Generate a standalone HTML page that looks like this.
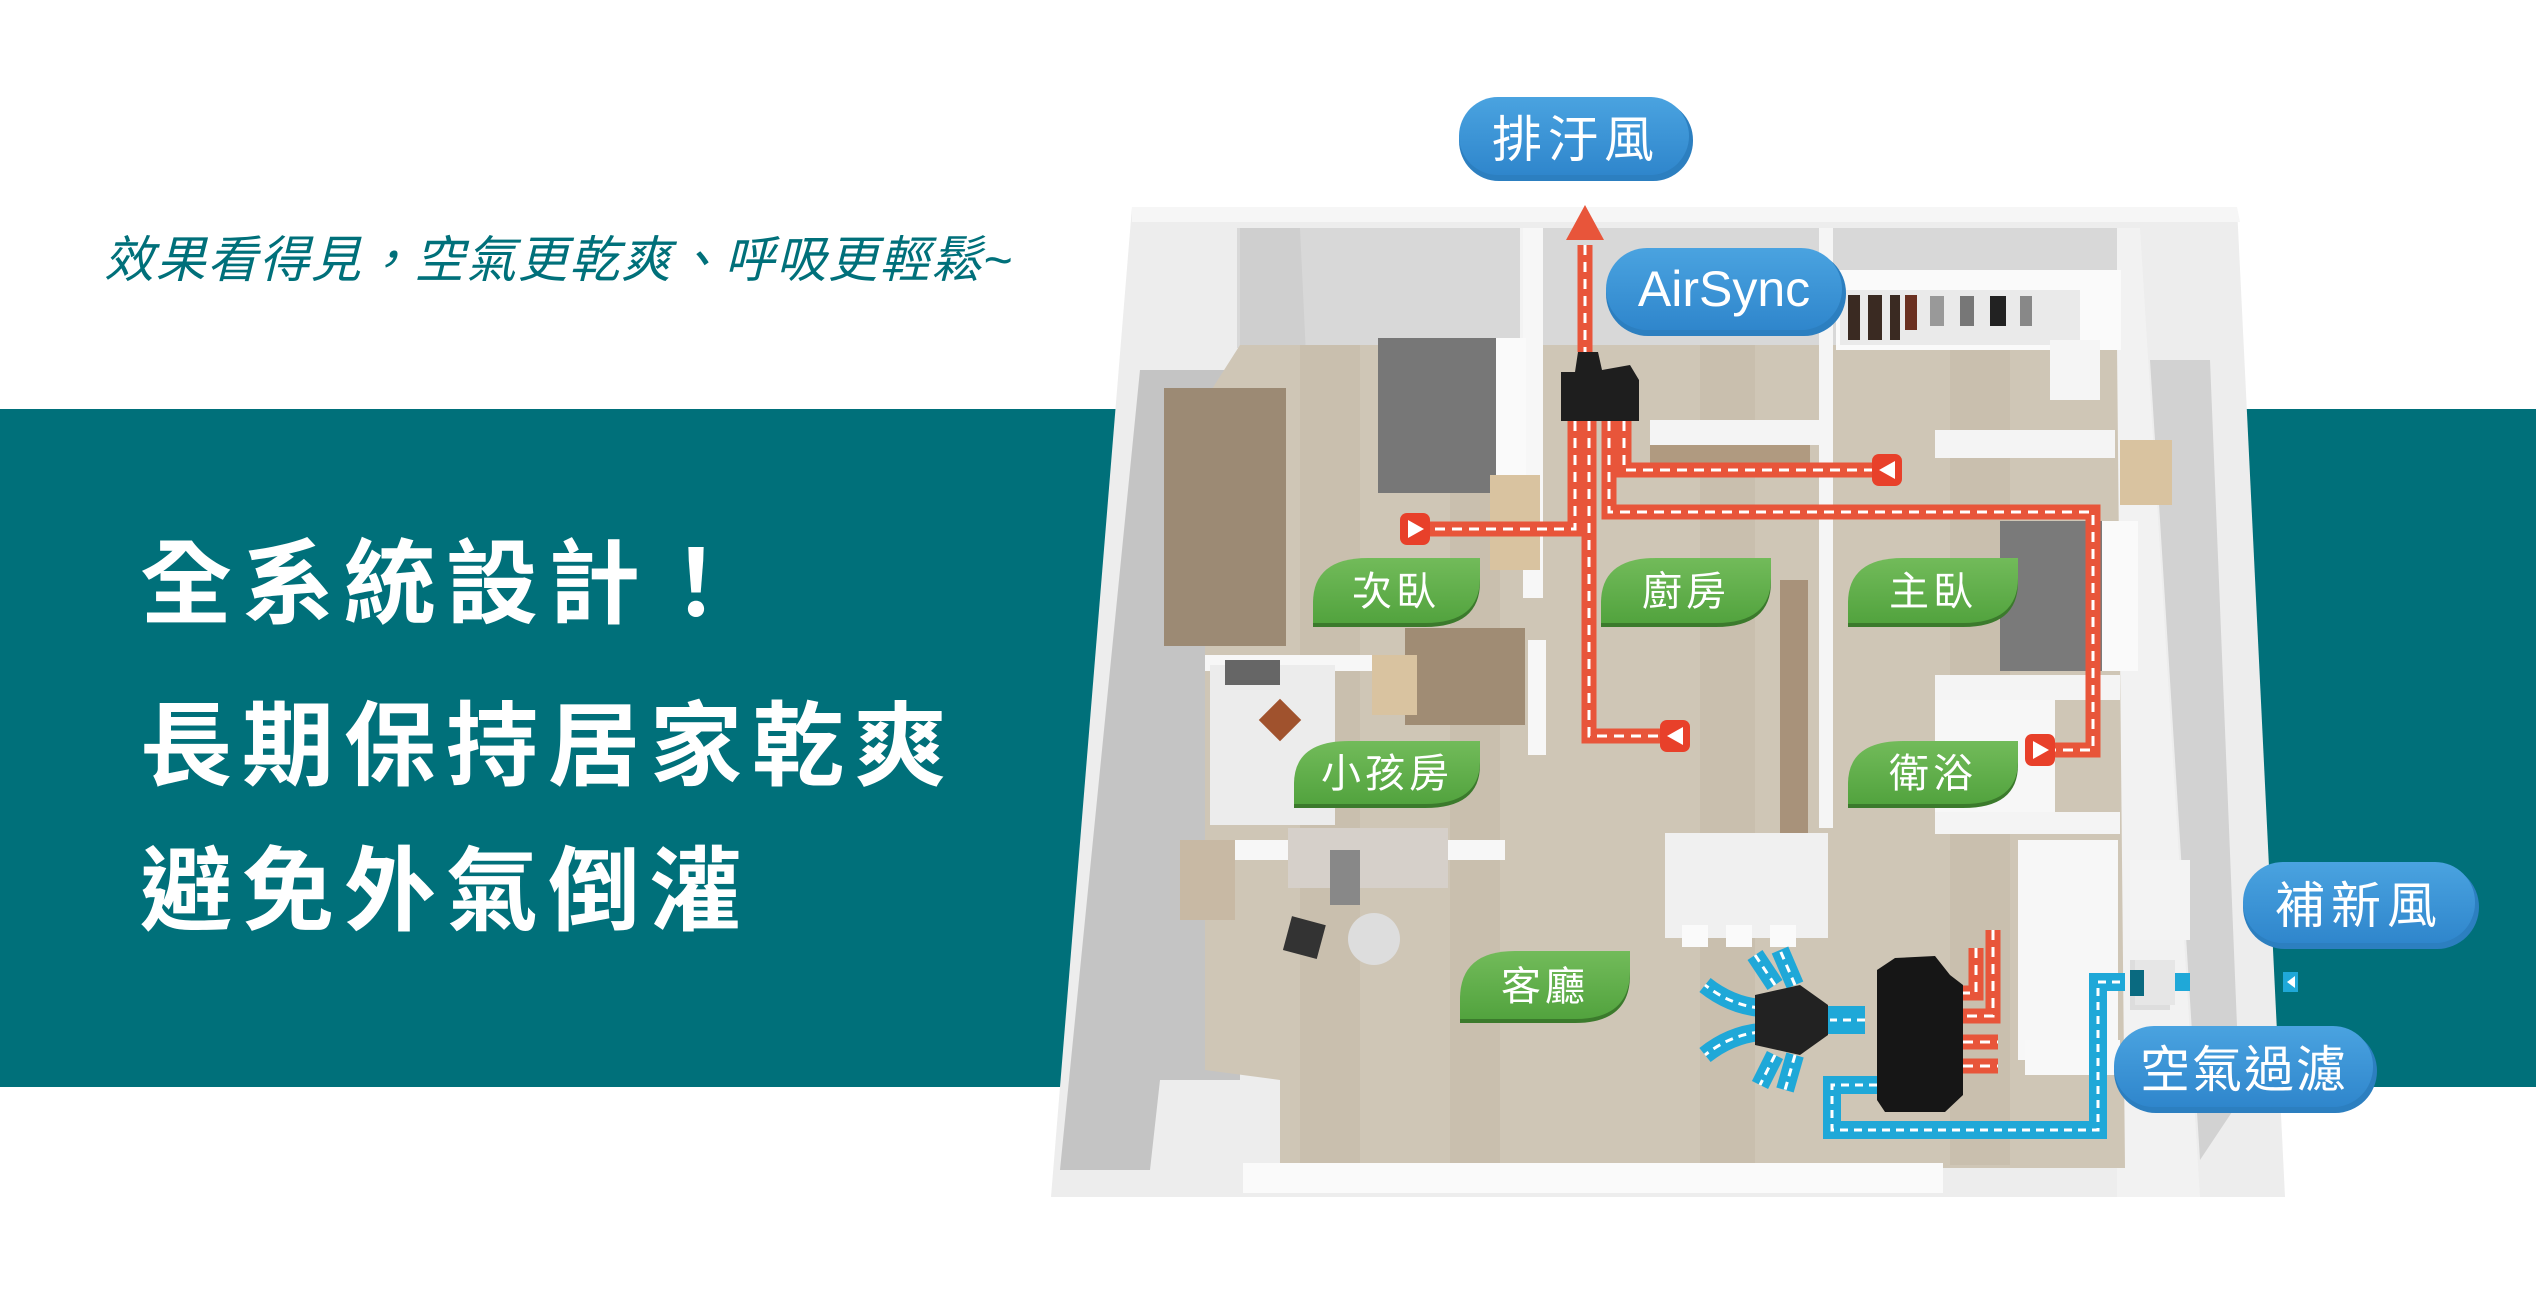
<!DOCTYPE html>
<html><head><meta charset="utf-8"><style>
html,body{margin:0;padding:0;background:#fff}
svg{display:block}
text{font-family:"Liberation Sans","Noto Sans CJK TC",sans-serif}
</style></head><body>
<svg width="2536" height="1305" viewBox="0 0 2536 1305" xmlns="http://www.w3.org/2000/svg">
<defs>
<linearGradient id="pill" x1="0" y1="0" x2="0" y2="1"><stop offset="0" stop-color="#4aa3e0"/><stop offset="1" stop-color="#2f86cc"/></linearGradient>
<linearGradient id="leaf" x1="0" y1="0" x2="0" y2="1"><stop offset="0" stop-color="#72bb5a"/><stop offset="1" stop-color="#52a33e"/></linearGradient>
</defs>
<rect width="2536" height="1305" fill="#fff"/>
<rect x="0" y="409" width="2536" height="678" fill="#00707a"/>
<text x="104" y="277" font-size="50" font-style="italic" fill="#00707a" letter-spacing="1.7">效果看得見，空氣更乾爽、呼吸更輕鬆~</text>
<g fill="#fff" font-weight="bold" font-size="92" letter-spacing="10">
<text x="140" y="616">全系統設計！</text>
<text x="140" y="778">長期保持居家乾爽</text>
<text x="140" y="923">避免外氣倒灌</text>
</g>
<polygon points="1132,207 2237,207 2285,1197 1051,1197" fill="#ededed"/>
<polygon points="1132,207 2237,207 2240,222 1132,222" fill="#f6f6f6"/>
<rect x="1237" y="228" width="880" height="120" fill="#d8d8d8"/>
<rect x="1520" y="228" width="4" height="120" fill="#f3f3f3"/>
<polygon points="1140,370 1240,370 1240,1080 1160,1080 1150,1170 1060,1170" fill="#c4c4c4"/>
<polygon points="1240,228 1300,228 1310,440 1240,450" fill="#cfcfcf"/>
<polygon points="2117,228 2140,228 2200,1197 2117,1197" fill="#f2f2f2"/>
<polygon points="2150,360 2210,360 2240,1100 2200,1160" fill="#d2d2d2"/>
<polygon points="1240,345 2117,345 2125,1168 1280,1168 1280,1080 1205,1070 1205,400" fill="#cfc6b6"/>
<g fill="#c4baa8" opacity="0.6">
<rect x="1300" y="345" width="60" height="820"/><rect x="1450" y="345" width="50" height="820"/><rect x="1700" y="345" width="55" height="820"/><rect x="1950" y="345" width="60" height="820"/>
</g>
<rect x="1836" y="270" width="285" height="80" fill="#fafafa"/>
<rect x="1840" y="290" width="240" height="55" fill="#eaeaea"/>
<g fill="#3a2a22"><rect x="1848" y="295" width="12" height="45"/><rect x="1868" y="295" width="14" height="45"/><rect x="1890" y="295" width="10" height="45"/><rect x="1905" y="295" width="12" height="35" fill="#6a3020"/><rect x="1930" y="296" width="14" height="30" fill="#999"/><rect x="1960" y="296" width="14" height="30" fill="#777"/><rect x="1990" y="296" width="16" height="30" fill="#222"/><rect x="2020" y="296" width="12" height="30" fill="#888"/></g>
<rect x="2050" y="340" width="50" height="60" fill="#f5f5f5"/>
<rect x="1523" y="228" width="20" height="370" fill="#f7f7f7"/>
<rect x="1819" y="228" width="14" height="600" fill="#f5f5f5"/>
<rect x="1780" y="580" width="28" height="260" fill="#a8927a"/>
<rect x="1650" y="420" width="170" height="25" fill="#f4f4f4"/>
<rect x="1650" y="445" width="160" height="30" fill="#b09a80"/>
<rect x="1935" y="430" width="180" height="28" fill="#f4f4f4"/>
<rect x="1935" y="675" width="185" height="25" fill="#f4f4f4"/>
<rect x="1935" y="700" width="120" height="120" fill="#f7f7f7"/>
<rect x="1935" y="812" width="185" height="22" fill="#f4f4f4"/>
<rect x="2018" y="840" width="100" height="220" fill="#f7f7f7"/>
<rect x="1205" y="655" width="200" height="16" fill="#f7f7f7"/>
<rect x="1190" y="840" width="315" height="20" fill="#f7f7f7"/>
<rect x="1528" y="640" width="18" height="115" fill="#f7f7f7"/>
<rect x="1164" y="388" width="122" height="258" fill="#9c8a74"/>
<rect x="1378" y="338" width="118" height="155" fill="#777"/>
<rect x="1496" y="338" width="30" height="155" fill="#fafafa"/>
<rect x="1490" y="475" width="50" height="95" fill="#d9c3a0"/>
<rect x="1405" y="628" width="120" height="97" fill="#a08c74"/>
<rect x="1372" y="655" width="45" height="60" fill="#d9c3a0"/>
<rect x="1210" y="665" width="125" height="160" fill="#ececec"/>
<rect x="1225" y="660" width="55" height="25" fill="#666"/>
<rect x="1265" y="705" width="30" height="30" fill="#a0522d" transform="rotate(45 1280 720)"/>
<rect x="1288" y="828" width="160" height="60" fill="#d6d0ca"/>
<rect x="1330" y="850" width="30" height="55" fill="#888"/>
<rect x="1180" y="840" width="55" height="80" fill="#c8b9a4"/>
<rect x="1287" y="920" width="35" height="35" fill="#333" transform="rotate(15 1304 937)"/>
<circle cx="1374" cy="939" r="26" fill="#ddd"/>
<rect x="2000" y="521" width="102" height="150" fill="#7a7a7a"/>
<rect x="2102" y="521" width="36" height="150" fill="#fafafa"/>
<rect x="2120" y="440" width="52" height="65" fill="#d9c3a0"/>
<rect x="1665" y="833" width="163" height="105" fill="#f0f0f0"/>
<rect x="1682" y="925" width="26" height="22" fill="#fafafa"/><rect x="1726" y="925" width="26" height="22" fill="#fafafa"/><rect x="1770" y="925" width="26" height="22" fill="#fafafa"/>
<rect x="2130" y="860" width="60" height="80" fill="#f3f3f3"/>
<rect x="2025" y="1040" width="95" height="35" fill="#f8f8f8"/>
<rect x="2130" y="960" width="40" height="50" fill="#ddd"/>
<rect x="1243" y="1163" width="700" height="30" fill="#fafafa"/>
<g fill="none" stroke-linejoin="miter">
<g stroke="#e8553a" stroke-width="15">
<polyline points="1585,245 1585,352"/>
<polyline points="1575,421 1575,529 1420,529"/>
<polyline points="1589,421 1589,736 1670,736"/>
<polyline points="1624,421 1624,470 1888,470"/>
<polyline points="1609,421 1609,512 2093,512 2093,750 2040,750"/>
<polyline points="1993,930 1993,1016 1963,1016"/>
<polyline points="1976,948 1976,993 1963,993"/>
<polyline points="1963,1042 1998,1042"/><polyline points="1963,1066 1998,1066"/>
</g>
<g stroke="#fff" stroke-width="3" stroke-dasharray="10 7">
<polyline points="1585,245 1585,352"/>
<polyline points="1575,421 1575,529 1420,529"/>
<polyline points="1589,421 1589,736 1670,736"/>
<polyline points="1624,421 1624,470 1888,470"/>
<polyline points="1609,421 1609,512 2093,512 2093,750 2040,750"/>
<polyline points="1993,930 1993,1016 1963,1016"/>
<polyline points="1976,948 1976,993 1963,993"/>
<polyline points="1963,1042 1998,1042"/><polyline points="1963,1066 1998,1066"/>
</g>
</g>
<polygon points="1585,205 1604,240 1566,240" fill="#e8553a"/>
<g>
<rect x="1400" y="513" width="30" height="32" rx="7" fill="#e8402a"/><polygon points="1408,520 1424,529 1408,538" fill="#fff"/>
<rect x="1660" y="720" width="30" height="32" rx="7" fill="#e8402a"/><polygon points="1683,727 1667,736 1683,745" fill="#fff"/>
<rect x="1872" y="454" width="30" height="32" rx="7" fill="#e8402a"/><polygon points="1895,461 1879,470 1895,479" fill="#fff"/>
<rect x="2025" y="734" width="30" height="32" rx="7" fill="#e8402a"/><polygon points="2033,741 2049,750 2033,759" fill="#fff"/>
</g>
<path d="M1561,372 L1575,372 L1578,352 L1598,352 L1602,370 L1630,365 L1639,380 L1639,421 L1561,421 Z" fill="#1e1e1e"/>
<g fill="none">
<g stroke="#1fa8d8" stroke-width="18">
<polyline points="1877,1085 1832,1085 1832,1130 2098,1130 2098,982 2125,982"/>
<line x1="1828" y1="1020" x2="1865" y2="1020" stroke-width="28"/>
<path d="M1760,1008 Q1730,1005 1705,985"/>
<path d="M1760,1032 Q1730,1035 1705,1055"/>
<path d="M1775,985 L1755,955"/><path d="M1795,985 L1780,950"/>
<path d="M1775,1055 L1760,1085"/><path d="M1795,1055 L1785,1090"/>
<line x1="2175" y1="982" x2="2190" y2="982"/>
</g>
<g stroke="#fff" stroke-width="3" stroke-dasharray="8 6">
<polyline points="1877,1085 1832,1085 1832,1130 2098,1130 2098,982 2125,982"/>
<line x1="1865" y1="1020" x2="1830" y2="1020"/>
<path d="M1760,1008 Q1730,1005 1705,985"/>
<path d="M1760,1032 Q1730,1035 1705,1055"/>
<path d="M1775,985 L1755,955"/><path d="M1795,985 L1780,950"/>
<path d="M1775,1055 L1760,1085"/><path d="M1795,1055 L1785,1090"/>
</g>
</g>
<path d="M1755,995 L1800,985 L1828,1005 L1828,1035 L1800,1055 L1755,1045 Z" fill="#222"/>
<path d="M1877,970 L1895,958 L1935,956 L1950,975 L1963,985 L1963,1095 L1945,1112 L1885,1112 L1877,1100 Z" fill="#161616"/>
<rect x="2135" y="960" width="40" height="45" fill="#e6e6e6"/>
<rect x="2130" y="970" width="14" height="26" fill="#0a6a80"/>
<rect x="2283" y="972" width="15" height="20" fill="#1fa8d8"/><polygon points="2287,982 2295,976 2295,988" fill="#fff"/>
<g>
<rect x="1459" y="100" width="234" height="81" rx="40" fill="#2c7fc0"/>
<rect x="1459" y="97" width="230" height="78" rx="39" fill="url(#pill)"/>
<text x="1576" y="157" text-anchor="middle" font-size="50" fill="#fff" letter-spacing="6">排汙風</text>
<rect x="1606" y="251" width="240" height="85" rx="42" fill="#2c7fc0"/>
<rect x="1606" y="248" width="236" height="82" rx="41" fill="url(#pill)"/>
<text x="1724" y="306" text-anchor="middle" font-size="50" fill="#fff">AirSync</text>
<rect x="2243" y="865" width="236" height="84" rx="42" fill="#2c7fc0"/>
<rect x="2243" y="862" width="232" height="81" rx="40" fill="url(#pill)"/>
<text x="2359" y="923" text-anchor="middle" font-size="50" fill="#fff" letter-spacing="6">補新風</text>
<rect x="2114" y="1029" width="263" height="84" rx="42" fill="#2c7fc0"/>
<rect x="2114" y="1026" width="259" height="81" rx="40" fill="url(#pill)"/>
<text x="2244" y="1087" text-anchor="middle" font-size="50" fill="#fff" letter-spacing="2">空氣過濾</text>
</g>
<g font-size="40" fill="#fff" text-anchor="middle" letter-spacing="4">
<g transform="translate(1313,558)"><path d="M0,65 L0,45 Q0,0 55,0 L167,0 L167,20 Q167,65 112,65 Z" fill="#3b7a2c" transform="translate(0,4)"/><path d="M0,65 L0,45 Q0,0 55,0 L167,0 L167,20 Q167,65 112,65 Z" fill="url(#leaf)"/><text x="83" y="47">次臥</text></g>
<g transform="translate(1601,558)"><path d="M0,65 L0,45 Q0,0 55,0 L170,0 L170,20 Q170,65 115,65 Z" fill="#3b7a2c" transform="translate(0,4)"/><path d="M0,65 L0,45 Q0,0 55,0 L170,0 L170,20 Q170,65 115,65 Z" fill="url(#leaf)"/><text x="85" y="47">廚房</text></g>
<g transform="translate(1848,558)"><path d="M0,65 L0,45 Q0,0 55,0 L170,0 L170,20 Q170,65 115,65 Z" fill="#3b7a2c" transform="translate(0,4)"/><path d="M0,65 L0,45 Q0,0 55,0 L170,0 L170,20 Q170,65 115,65 Z" fill="url(#leaf)"/><text x="85" y="47">主臥</text></g>
<g transform="translate(1294,741)"><path d="M0,63 L0,43 Q0,0 55,0 L186,0 L186,20 Q186,63 131,63 Z" fill="#3b7a2c" transform="translate(0,4)"/><path d="M0,63 L0,43 Q0,0 55,0 L186,0 L186,20 Q186,63 131,63 Z" fill="url(#leaf)"/><text x="93" y="46">小孩房</text></g>
<g transform="translate(1848,741)"><path d="M0,63 L0,43 Q0,0 55,0 L170,0 L170,20 Q170,63 115,63 Z" fill="#3b7a2c" transform="translate(0,4)"/><path d="M0,63 L0,43 Q0,0 55,0 L170,0 L170,20 Q170,63 115,63 Z" fill="url(#leaf)"/><text x="85" y="46">衛浴</text></g>
<g transform="translate(1460,951)"><path d="M0,68 L0,48 Q0,0 55,0 L170,0 L170,20 Q170,68 115,68 Z" fill="#3b7a2c" transform="translate(0,4)"/><path d="M0,68 L0,48 Q0,0 55,0 L170,0 L170,20 Q170,68 115,68 Z" fill="url(#leaf)"/><text x="85" y="49">客廳</text></g>
</g>
</svg>
</body></html>
